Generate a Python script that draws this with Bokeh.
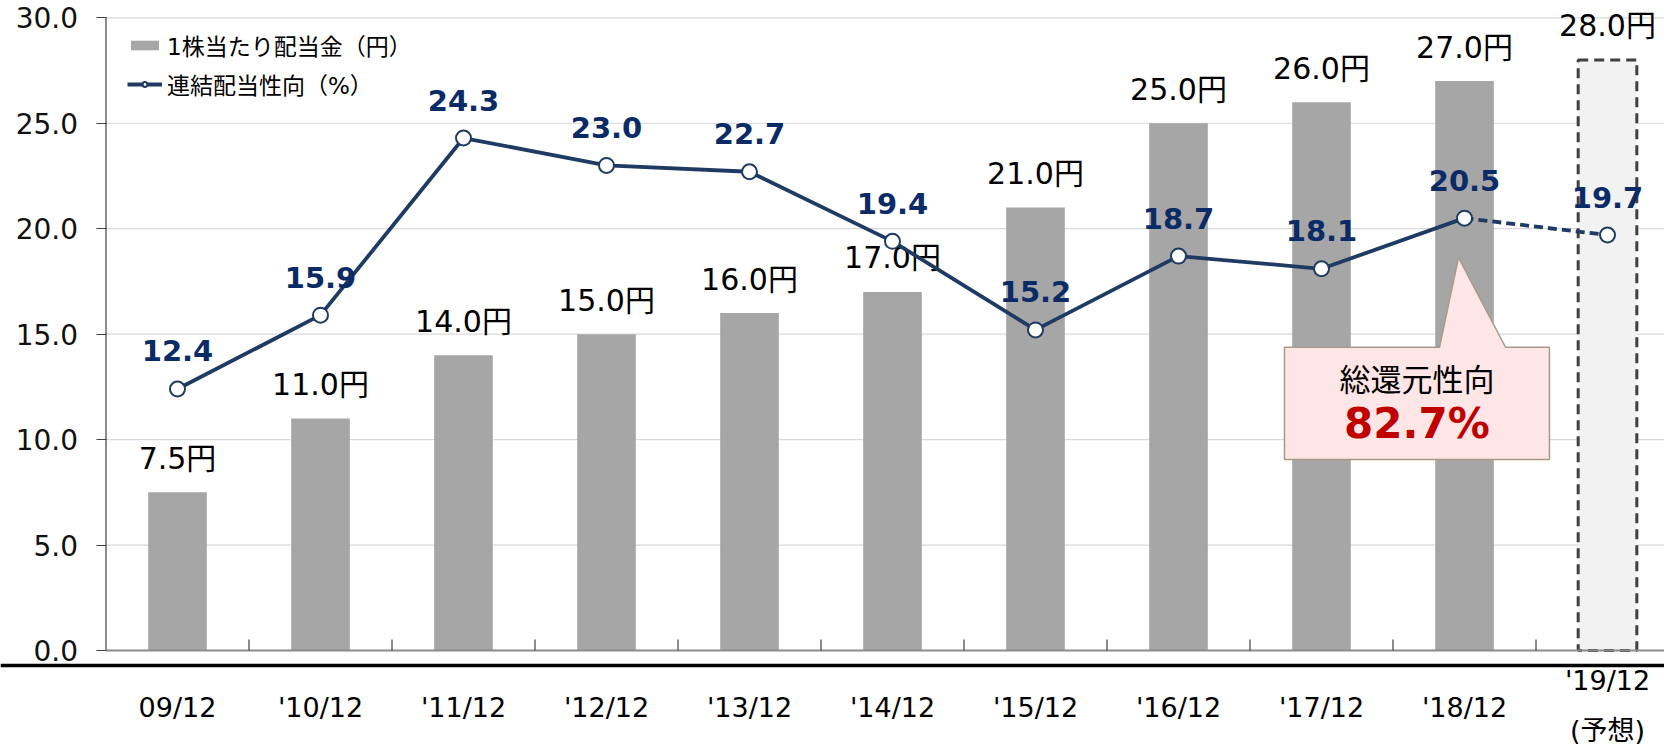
from bokeh.plotting import figure
from bokeh.models import (Range1d, FixedTicker, PrintfTickFormatter, Span, Legend,
                          LegendItem, LinearAxis)
from bokeh.core.properties import value
from bokeh.embed import file_html
from bokeh.resources import INLINE
import numpy as np

# ---------------- data ----------------
categories = ["09/12", "'10/12", "'11/12", "'12/12", "'13/12", "'14/12",
              "'15/12", "'16/12", "'17/12", "'18/12", "'19/12"]
forecast_note = "(予想)"
dividend = [7.5, 11.0, 14.0, 15.0, 16.0, 17.0, 21.0, 25.0, 26.0, 27.0]
dividend_forecast = [28.0]
payout = [12.4, 15.9, 24.3, 23.0, 22.7, 19.4, 15.2, 18.7, 18.1, 20.5]
payout_forecast = [19.7]
y_ticks = [0, 5, 10, 15, 20, 25, 30]
legend_labels = ["1株当たり配当金（円）", "連結配当性向（%）"]
callout_title = "総還元性向"
callout_value = "82.7%"

# ---------------- layout ----------------
W, H = 1664, 745
AXIS_X = 105.5                    # px of the y axis from the left edge
STEP = 143.0                      # px per category
UNIT = 21.09                      # px per y unit
ZERO_Y = 650.0                    # px of y=0 from the top
X0 = -0.5 - AXIS_X / STEP
X1 = -0.5 + (W - AXIS_X) / STEP
Y1 = ZERO_Y / UNIT
Y0 = -(H - ZERO_Y) / UNIT

NUM_FONT = "DejaVu Sans, Noto Sans CJK JP"
JP_FONT = "Noto Sans CJK JP"
NAVY = "#1F3B63"
LABEL_NAVY = "#0B2B66"

p = figure(width=W, height=H, x_range=Range1d(X0, X1), y_range=Range1d(Y0, Y1),
           output_backend="svg", toolbar_location=None, x_axis_location=None,
           y_axis_location=None, min_border=0, outline_line_color=None,
           background_fill_color="white", border_fill_color="white")
p.xgrid.visible = False
p.ygrid.visible = False

# y axis placed at the first category boundary
yax = LinearAxis(fixed_location=-0.5)
yax.ticker = FixedTicker(ticks=y_ticks)
yax.formatter = PrintfTickFormatter(format="%.1f")
yax.axis_line_color = None
yax.major_tick_out = 10
yax.major_tick_in = 0
yax.minor_tick_line_color = None
yax.major_tick_line_color = "#404040"
yax.major_tick_line_width = 1
yax.major_label_text_font = NUM_FONT
yax.major_label_text_font_size = "28px"
yax.major_label_text_color = "#111111"
yax.major_label_standoff = 18
p.add_layout(yax, "left")

n = len(dividend)
idx = np.arange(n)
idx_all = np.arange(len(categories))
div_all = dividend + dividend_forecast
pay_all = payout + payout_forecast

# horizontal grid lines from the axis to the right edge
gy = np.array(y_ticks[1:], dtype=float)
p.segment(x0=np.full(len(gy), -0.5), y0=gy, x1=np.full(len(gy), X1), y1=gy,
          line_color="#D9D9D9", line_width=1.2)

# manual y axis line from 0 to 30
p.segment(x0=[-0.5], y0=[y_ticks[0]], x1=[-0.5], y1=[y_ticks[-1]],
          line_color="#404040", line_width=1.2)

# bars
bars = p.vbar(x=idx, top=dividend, width=0.41, fill_color="#A6A6A6", line_color=None)
p.vbar(x=idx_all[n:], top=dividend_forecast, width=0.41, fill_color="#F2F2F2",
       line_color="#404040", line_width=3, line_dash="10 6")

# baseline at 0 and category boundary ticks
p.segment(x0=[-0.5], y0=[0], x1=[X1], y1=[0], line_color="#8C8C8C", line_width=2)
bx = idx_all[:-1] + 0.5
p.segment(x0=bx, y0=np.zeros(len(bx)), x1=bx, y1=np.full(len(bx), 11 / UNIT),
          line_color="#404040", line_width=1.2)

# black separator line
sep_y = -(15 / UNIT)
p.add_layout(Span(location=sep_y, dimension="width", line_color="black", line_width=3.5))

# bar labels
p.text(x=idx_all, y=np.array(div_all) + 34 / UNIT,
       text=[f"{v:.1f}円" for v in div_all], text_align="center",
       text_baseline="middle", text_font=value(NUM_FONT), text_font_size="30px",
       text_color="#000000")

# callout
cx_l, cx_r, cy_b, cy_t = 7.741, 9.594, 9.06, 14.38
p.patch(x=[cx_l, cx_r, cx_r, 9.287, 8.958, 8.825, cx_l],
        y=[cy_b, cy_b, cy_t, cy_t, 18.63, cy_t, cy_t],
        fill_color="#FFE6E6", line_color="#A89A88", line_width=1.5)
p.text(x=[(cx_l + cx_r) / 2], y=[12.94], text=[callout_title], text_align="center",
       text_baseline="middle", text_font=value(JP_FONT), text_font_size="31px",
       text_color="#000000")
p.text(x=[(cx_l + cx_r) / 2], y=[10.78], text=[callout_value], text_align="center",
       text_baseline="middle", text_font=value(NUM_FONT), text_font_size="42px",
       text_font_style="bold", text_color="#C00000")

# payout line
ln = p.line(x=idx, y=payout, line_color=NAVY, line_width=3.8)
p.line(x=idx_all[n - 1:], y=pay_all[n - 1:], line_color=NAVY, line_width=3.8,
       line_dash="9 5")
mk = p.scatter(x=idx_all, y=pay_all, size=15, fill_color="white", line_color=NAVY,
               line_width=2)
p.text(x=idx_all, y=np.array(pay_all) + 38 / UNIT, text=[f"{v:.1f}" for v in pay_all],
       text_align="center", text_baseline="middle", text_font=value(NUM_FONT),
       text_font_size="29px", text_font_style="bold", text_color=LABEL_NAVY)

# category labels
lab_y = -(57 / UNIT)
p.text(x=idx_all[:-1], y=np.full(len(categories) - 1, lab_y), text=categories[:-1],
       text_align="center", text_baseline="middle", text_font=value(NUM_FONT),
       text_font_size="27px", text_color="#000000")
p.text(x=[idx_all[-1], idx_all[-1]], y=[-(30 / UNIT), -(80 / UNIT)],
       text=[categories[-1], forecast_note], text_align="center",
       text_baseline="middle", text_font=value(NUM_FONT), text_font_size="27px",
       text_color="#000000")

# legend
legend = Legend(items=[LegendItem(label=legend_labels[0], renderers=[bars]),
                       LegendItem(label=legend_labels[1], renderers=[ln, mk])],
                location=(127, 644), orientation="vertical", padding=0, spacing=5,
                glyph_width=35, glyph_height=12, label_height=28, label_standoff=5,
                label_text_font=NUM_FONT, label_text_font_size="23px",
                label_text_color="#000000", border_line_color=None,
                background_fill_alpha=0)
p.add_layout(legend)

open("out.html", "w").write(file_html(p, INLINE))
